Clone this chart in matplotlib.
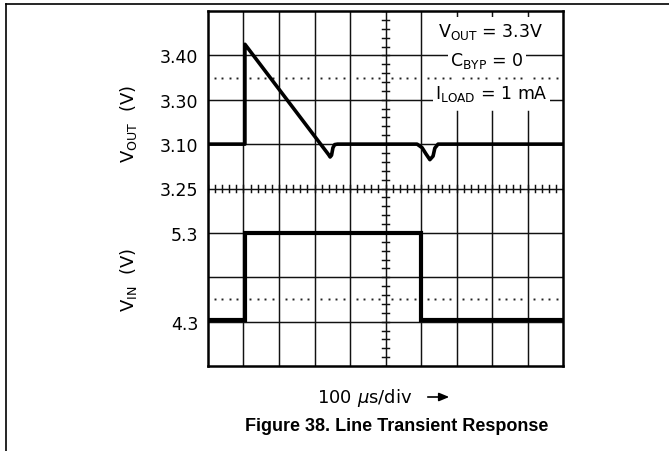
import matplotlib
matplotlib.use("Agg")
import matplotlib.pyplot as plt
from matplotlib.lines import Line2D
from matplotlib.patches import Rectangle, FancyArrowPatch
import numpy as np

# ---- data (time in µs, 100 µs/div; vertical in screen divisions) ----
vout_t = [0, 104, 104, 340, 344, 348, 352, 357, 365, 589, 603, 614, 625, 634, 639, 648, 1000]
vout_div = [5.0, 5.0, 7.25, 4.76, 4.71, 4.75, 4.92, 4.99, 5.0, 5.0, 4.92, 4.78, 4.65, 4.73, 4.91, 5.0, 5.0]

vin_t = [0, 103, 103, 601, 601, 1000]
vin_v = [4.32, 4.32, 5.3, 5.3, 4.32, 4.32]

top_tick_pos = [7, 6, 5, 4]
top_tick_labels = ["3.40", "3.30", "3.10", "3.25"]
bot_tick_v = [5.3, 4.3]
bot_tick_labels = ["5.3", "4.3"]

def vin_to_div(v):
    return 1 + (np.asarray(v) - 4.3) * 2.0

W, H = 669, 452
fig = plt.figure(figsize=(W / 100, H / 100), dpi=100)
L, R, T, B = 208, 563, 12, 367
ax = fig.add_axes([L / W, 1 - B / H, (R - L) / W, (B - T) / H])
ax.set_xlim(0, 1000)
ax.set_ylim(0, 8)

gl = dict(color="#111111", lw=1.05)
# vertical gridlines
for i in range(1, 10):
    x = i * 100
    if i in (7, 8, 9):
        ax.plot([x, x], [0, 5.75], zorder=1, **gl)
        ax.plot([x, x], [7.86, 8], zorder=1, **gl)
    else:
        ax.plot([x, x], [0, 8], zorder=1, **gl)
# horizontal gridlines
for j in range(1, 8):
    ax.plot([0, 1000], [j, j], zorder=3, **gl)

# centre cross minor ticks
for k in range(0, 51):
    x = k * 20
    ax.plot([x, x], [4 - 0.09, 4 + 0.09], zorder=3, **gl)
for k in range(0, 41):
    y = k * 0.2
    ax.plot([500 - 11, 500 + 11], [y, y], zorder=3, **gl)

# dotted reference lines
dots_x = np.concatenate([i * 100 + np.array([19, 40, 61, 82]) for i in range(10)])
for yd in (6.5, 1.5):
    ax.plot(dots_x, np.full_like(dots_x, yd, dtype=float), ls="none", marker="s",
            ms=1.4, mew=0, color="#222222", zorder=3)

# white area behind annotation block (interrupts vertical gridlines)
ax.add_patch(Rectangle((645, 5.79), 310, 2.07, facecolor="white", edgecolor="none", zorder=2))

# traces
ax.plot(vout_t, vout_div, color="black", lw=2.6, solid_joinstyle="round",
        solid_capstyle="butt", zorder=6)
ax.plot(vin_t, vin_to_div(vin_v), color="black", lw=3.0, solid_joinstyle="miter", zorder=6)

# annotations
bb = dict(boxstyle="square,pad=0.12", facecolor="white", edgecolor="none")
fs = 12.5
ax.text(797, 7.44, r"V$_{\mathregular{OUT}}$ = 3.3V", ha="center", va="baseline",
        fontsize=fs, zorder=5, bbox=bb)
ax.text(786, 6.78, r"C$_{\mathregular{BYP}}$ = 0", ha="center", va="baseline",
        fontsize=fs, zorder=5, bbox=bb)
ax.text(799, 6.03, r"I$_{\mathregular{LOAD}}$ = 1 mA", ha="center", va="baseline",
        fontsize=fs, zorder=5, bbox=bb)

# ticks
yt = list(top_tick_pos) + list(vin_to_div(bot_tick_v))
ax.set_yticks(yt)
ax.set_yticklabels(top_tick_labels + bot_tick_labels, fontsize=12.5)
ax.tick_params(axis="y", length=0, pad=7)
ax.set_xticks([])
for s in ax.spines.values():
    s.set_linewidth(1.8)
    s.set_zorder(7)

# y labels
ax.text(-225, 5.48, r"V$_{\mathregular{OUT}}$  (V)", rotation=90, ha="center", va="center",
        fontsize=13)
ax.text(-225, 1.96, r"V$_{\mathregular{IN}}$  (V)", rotation=90, ha="center", va="center",
        fontsize=13)

# x label and arrow
fig.text(365 / W, 1 - 398 / H, r"100 $\mu$s/div", ha="center", va="center", fontsize=13)
fig.add_artist(FancyArrowPatch(
    (425 / W, 1 - 398 / H), (452 / W, 1 - 398 / H), transform=fig.transFigure,
    arrowstyle="-|>,head_length=6,head_width=2.5", color="black", lw=1.2,
    mutation_scale=1))

# caption
fig.text(397 / W, 1 - 427 / H, "Figure 38. Line Transient Response", ha="center",
         va="center", fontsize=13, fontweight="bold", family="Liberation Sans")

# page frame lines
fig.add_artist(Line2D([6 / W, 1], [1 - 4.5 / H, 1 - 4.5 / H], transform=fig.transFigure,
                      color="black", lw=1.2))
fig.add_artist(Line2D([6 / W, 6 / W], [0, 1 - 4.5 / H], transform=fig.transFigure,
                      color="black", lw=1.2))

fig.savefig("out.png", dpi=100)
